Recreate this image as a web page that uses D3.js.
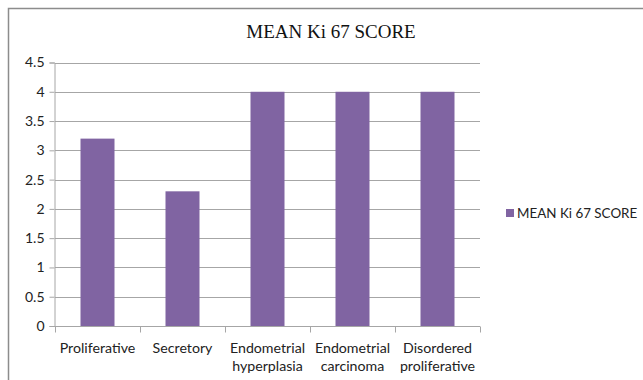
<!DOCTYPE html>
<html>
<head>
<meta charset="utf-8">
<script src="https://cdn.jsdelivr.net/npm/d3@7"></script>
<style>
  html, body { margin: 0; padding: 0; background: #fff; }
  svg { display: block; }
</style>
</head>
<body>
<svg id="chart" width="643" height="380"></svg>
<script>
// Mean Ki-67 score by endometrial category
const categories = [
  ["Proliferative"],
  ["Secretory"],
  ["Endometrial", "hyperplasia"],
  ["Endometrial", "carcinoma"],
  ["Disordered", "proliferative"]
];
const scores = [3.2, 2.3, 4, 4, 4];
const yTicks = [0, 0.5, 1, 1.5, 2, 2.5, 3, 3.5, 4, 4.5];
const seriesName = "MEAN Ki 67 SCORE";
const chartTitle = "MEAN Ki 67 SCORE";

const svg = d3.select("#chart");
const labelFont = "Lato, 'Open Sans', sans-serif";
const barColor = "#8064A2";

// outer frame
svg.append("path")
  .attr("d", "M8.5,380 V8.5 H643")
  .attr("fill", "none")
  .attr("stroke", "#8c8c8c")
  .attr("stroke-width", 1.5);

const plot = { left: 55, right: 480, top: 62.5, bottom: 326 };

const x = d3.scaleBand()
  .domain(d3.range(categories.length))
  .range([plot.left, plot.right])
  .paddingInner(0)
  .paddingOuter(0);

const y = d3.scaleLinear()
  .domain([0, 4.5])
  .range([plot.bottom, plot.top]);

// gridlines
svg.append("g")
  .selectAll("line")
  .data(yTicks.filter(t => t > 0))
  .join("line")
  .attr("x1", plot.left)
  .attr("x2", plot.right)
  .attr("y1", d => Math.round(y(d)) + 0.5)
  .attr("y2", d => Math.round(y(d)) + 0.5)
  .attr("stroke", "#a6a6a6")
  .attr("stroke-width", 1);

// bars
const barW = x.bandwidth() / 2.5;
svg.append("g")
  .selectAll("rect")
  .data(scores)
  .join("rect")
  .attr("x", (d, i) => x(i) + (x.bandwidth() - barW) / 2)
  .attr("y", d => y(d))
  .attr("width", barW)
  .attr("height", d => y(0) - y(d))
  .attr("fill", barColor);

// y axis
const yAxis = svg.append("g")
  .attr("transform", `translate(${plot.left - 0.5},0)`)
  .call(d3.axisLeft(y).tickValues(yTicks).tickSize(5).tickPadding(5)
    .tickFormat(d => String(d)));
yAxis.select(".domain").attr("stroke", "#a6a6a6");
yAxis.selectAll(".tick line").attr("stroke", "#a6a6a6");
yAxis.selectAll(".tick text")
  .attr("font-family", labelFont)
  .attr("font-size", 14)
  .attr("fill", "#222");

// x axis
const xAxis = svg.append("g")
  .attr("transform", `translate(0,${Math.round(plot.bottom) + 0.5})`);
xAxis.append("line")
  .attr("x1", plot.left).attr("x2", plot.right)
  .attr("stroke", "#a6a6a6");
xAxis.selectAll("line.tick")
  .data(d3.range(categories.length + 1))
  .join("line")
  .attr("class", "tick")
  .attr("x1", i => Math.round(plot.left + i * x.bandwidth()) + 0.5)
  .attr("x2", i => Math.round(plot.left + i * x.bandwidth()) + 0.5)
  .attr("y1", 0).attr("y2", 6)
  .attr("stroke", "#a6a6a6");
const xl = xAxis.selectAll("text")
  .data(categories)
  .join("text")
  .attr("text-anchor", "middle")
  .attr("font-family", labelFont)
  .attr("font-size", 14.2)
  .attr("fill", "#222")
  .attr("transform", (d, i) => `translate(${x(i) + x.bandwidth() / 2},26)`);
xl.selectAll("tspan")
  .data(d => d)
  .join("tspan")
  .attr("x", 0)
  .attr("dy", (d, i) => i === 0 ? 0 : 18)
  .text(d => d);

// title
svg.append("text")
  .attr("x", 331)
  .attr("y", 38)
  .attr("text-anchor", "middle")
  .attr("font-family", "'Liberation Serif', 'Times New Roman', serif")
  .attr("font-size", 19)
  .attr("fill", "#111")
  .text(chartTitle);

// legend
const legend = svg.append("g").attr("transform", "translate(506,209)");
legend.append("rect")
  .attr("width", 8).attr("height", 8)
  .attr("fill", barColor);
legend.append("text")
  .attr("x", 11).attr("y", 9)
  .attr("font-family", labelFont)
  .attr("font-size", 13.4)
  .attr("fill", "#222")
  .text(seriesName);
</script>
</body>
</html>
